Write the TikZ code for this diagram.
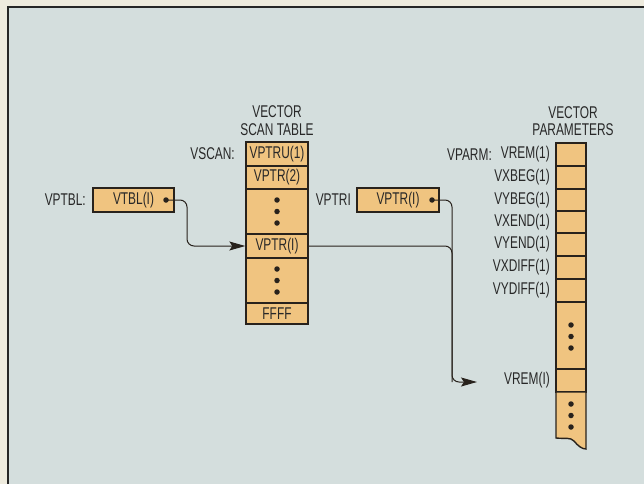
\documentclass[tikz,border=0pt]{standalone}
\usepackage{fontspec}
\setmainfont{Liberation Sans}[FakeStretch=0.7]
\usetikzlibrary{arrows.meta}
\definecolor{bgout}{RGB}{238,235,222}
\definecolor{bgin}{RGB}{212,222,221}
\definecolor{cellfill}{RGB}{240,196,128}
\definecolor{ink}{RGB}{40,34,28}
\definecolor{txt}{RGB}{40,40,40}
\begin{document}
\begin{tikzpicture}[x=1pt,y=-1pt,
  every node/.style={font=\fontsize{17}{19}\selectfont, text=txt},
  cell/.style={draw=ink, line width=1.4pt, fill=cellfill, inner sep=0pt, minimum width=62pt},
  pcell/.style={draw=ink, line width=1.4pt, fill=cellfill, inner sep=0pt, minimum width=30pt},
  boxcell/.style={draw=ink, line width=1.4pt, fill=cellfill, inner sep=0pt, minimum height=24pt},
  lbl/.style={anchor=east, inner sep=0pt},
  ttl/.style={inner sep=0pt},
  pdot/.style={circle, fill=ink, inner sep=0pt, minimum size=5.5pt},
  link/.style={draw=ink, line width=1pt, rounded corners=7pt},
  tip/.style={-{Stealth[length=16pt,width=9pt,inset=3pt]}}
]
\useasboundingbox (0,0) rectangle (644,484);
\fill[bgout] (0,0) rectangle (644,484);
\fill[bgin] (8,7) rectangle (644,484);
\draw[line width=2pt, black!85] (8,484) -- (8,7) -- (644,7);

% scan table
\node[ttl] (t1a) at (277,112) {VECTOR};
\node[ttl] (t1b) at (277,130) {SCAN TABLE};
\node[cell, minimum height=24pt] (st1) at (277,154) {VPTRU(1)};
\node[cell, minimum height=23pt] (st2) at (277,177.5) {VPTR(2)};
\node[cell, minimum height=45pt] (st3) at (277,211.5) {};
\node[cell, minimum height=24pt] (st4) at (277,246) {VPTR(I)};
\node[cell, minimum height=45pt] (st5) at (277,280.5) {};
\node[cell, minimum height=21pt] (st6) at (277,313.5) {FFFF};
\node[pdot] (sd1) at (277,200) {};
\node[pdot] (sd2) at (277,211.5) {};
\node[pdot] (sd3) at (277,223) {};
\node[pdot] (sd4) at (277,269) {};
\node[pdot] (sd5) at (277,280.5) {};
\node[pdot] (sd6) at (277,292) {};
\node[lbl] (lscan) at (235,154) {VSCAN:};

% VTBL box
\node[lbl] (lptbl) at (86,200) {VPTBL:};
\node[boxcell, minimum width=81pt] (vtbl) at (133.5,200) {VTBL(I)\hspace{7pt}};
\node[pdot] (d1) at (166,200) {};

% VPTR(I) box
\node[lbl] (lptri) at (351,200) {VPTRI};
\node[boxcell, minimum width=82pt] (vptri) at (398,200) {VPTR(I)};
\node[pdot] (d2) at (432,200) {};

% parameters
\node[ttl] (t2a) at (573,113) {VECTOR};
\node[ttl] (t2b) at (573,130) {PARAMETERS};
\node[pcell, minimum height=23pt] (pr1) at (571,154.5) {};
\node[pcell, minimum height=23pt] (pr2) at (571,177.5) {};
\node[pcell, minimum height=22pt] (pr3) at (571,200) {};
\node[pcell, minimum height=22pt] (pr4) at (571,222) {};
\node[pcell, minimum height=23pt] (pr5) at (571,244.5) {};
\node[pcell, minimum height=23pt] (pr6) at (571,267.5) {};
\node[pcell, minimum height=23pt] (pr7) at (571,290.5) {};
\node[pcell, minimum height=67pt] (pr8) at (571,335.5) {};
\node[pcell, minimum height=23pt] (pr9) at (571,380.5) {};
\filldraw[draw=ink, fill=cellfill, line width=1.4pt]
  (556,392) -- (586,392) -- (586,449)
  .. controls (582,449) and (578,446) .. (574,441)
  .. controls (570,437) and (566,439) .. (556,438) -- cycle;
\node[pdot] (pd1) at (571,325) {};
\node[pdot] (pd2) at (571,336.5) {};
\node[pdot] (pd3) at (571,348) {};
\node[pdot] (pd4) at (571,404) {};
\node[pdot] (pd5) at (571,415.5) {};
\node[pdot] (pd6) at (571,427) {};

\node[lbl] (lparm) at (492,154.5) {VPARM:};
\node[lbl] (l1) at (550,154.5) {VREM(1)};
\node[lbl] (l2) at (550,177.5) {VXBEG(1)};
\node[lbl] (l3) at (550,200) {VYBEG(1)};
\node[lbl] (l4) at (550,222) {VXEND(1)};
\node[lbl] (l5) at (550,244.5) {VYEND(1)};
\node[lbl] (l6) at (550,267.5) {VXDIFF(1)};
\node[lbl] (l7) at (550,290.5) {VYDIFF(1)};
\node[lbl] (l9) at (550,380.5) {VREM(I)};

% connectors
\coordinate (tipR) at (477,382);
\coordinate (bus) at (452,382);
\draw[link, tip] (d1.center) -- ++(21,0) |- (st4.west);
\draw[link, tip] (d2.center) -| (bus) -- (tipR);
\draw[link] (st4.east) -| (bus);
\end{tikzpicture}
\end{document}
